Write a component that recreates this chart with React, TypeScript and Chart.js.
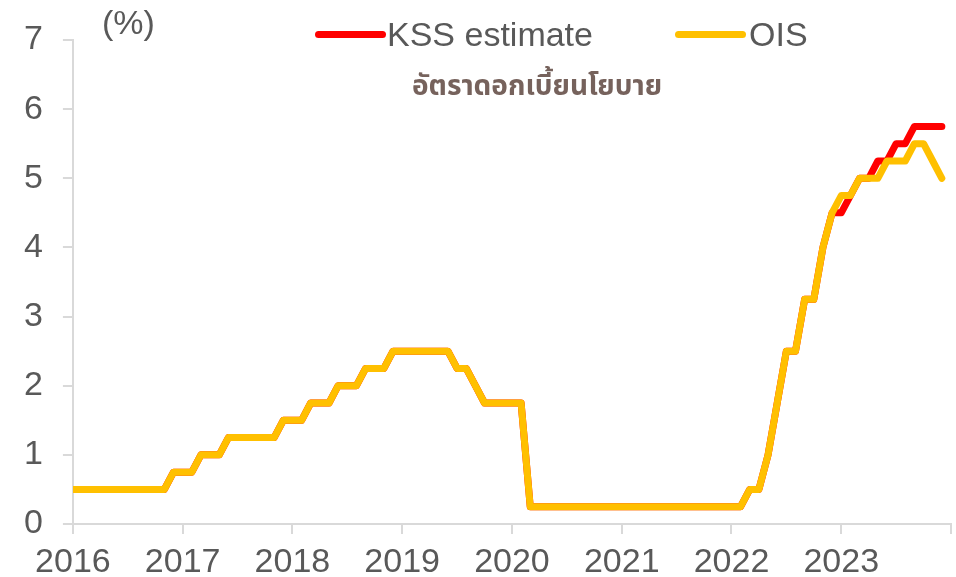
import React, { useEffect, useRef } from "react";
import { Chart, registerables } from "chart.js";

Chart.register(...registerables);

// Monthly observations, Jan 2016 .. Dec 2023 (policy rate, %)
const yearLabels = ["2016", "2017", "2018", "2019", "2020", "2021", "2022", "2023"];

const ois2016 = [0.5, 0.5, 0.5, 0.5, 0.5, 0.5, 0.5, 0.5, 0.5, 0.5, 0.5, 0.75];
const ois2017 = [0.75, 0.75, 1, 1, 1, 1.25, 1.25, 1.25, 1.25, 1.25, 1.25, 1.5];
const ois2018 = [1.5, 1.5, 1.75, 1.75, 1.75, 2, 2, 2, 2.25, 2.25, 2.25, 2.5];
const ois2019 = [2.5, 2.5, 2.5, 2.5, 2.5, 2.5, 2.25, 2.25, 2, 1.75, 1.75, 1.75];
const ois2020 = [1.75, 1.75, 0.25, 0.25, 0.25, 0.25, 0.25, 0.25, 0.25, 0.25, 0.25, 0.25];
const ois2021 = [0.25, 0.25, 0.25, 0.25, 0.25, 0.25, 0.25, 0.25, 0.25, 0.25, 0.25, 0.25];
const ois2022 = [0.25, 0.25, 0.5, 0.5, 1, 1.75, 2.5, 2.5, 3.25, 3.25, 4, 4.5];
const ois2023 = [4.75, 4.75, 5, 5, 5, 5.25, 5.25, 5.25, 5.5, 5.5, 5.25, 5];
const kss2023 = [4.5, 4.75, 5, 5, 5.25, 5.25, 5.5, 5.5, 5.75, 5.75, 5.75, 5.75];

const oisSeries = [
  ...ois2016, ...ois2017, ...ois2018, ...ois2019,
  ...ois2020, ...ois2021, ...ois2022, ...ois2023,
];
const kssSeries = [
  ...ois2016, ...ois2017, ...ois2018, ...ois2019,
  ...ois2020, ...ois2021, ...ois2022, ...kss2023,
];

const TEXT = "#595959";
const AXIS = "#D9D9D9";
const FONT = "'Liberation Sans', Arial, sans-serif";
const FS = 34;

export default function App() {
  const canvasRef = useRef<HTMLCanvasElement | null>(null);

  useEffect(() => {
    document.body.style.margin = "0";
    const canvas = canvasRef.current;
    if (!canvas) return;
    Chart.defaults.font.family = FONT;
    const toPts = (arr: number[]) => arr.map((v, i) => ({ x: i, y: v }));
    const chart = new Chart(canvas, {
      type: "line",
      data: {
        datasets: [
          {
            label: "KSS estimate",
            data: toPts(kssSeries),
            borderColor: "#FF0000",
            backgroundColor: "#FF0000",
            borderWidth: 7,
            pointRadius: 0,
            borderCapStyle: "round",
            borderJoinStyle: "round",
            tension: 0,
            order: 1,
          },
          {
            label: "OIS",
            data: toPts(oisSeries),
            borderColor: "#FFC000",
            backgroundColor: "#FFC000",
            borderWidth: 7,
            pointRadius: 0,
            borderCapStyle: "round",
            borderJoinStyle: "round",
            tension: 0,
            order: 0,
          },
        ],
      },
      options: {
        animation: false,
        responsive: true,
        maintainAspectRatio: false,
        layout: { padding: { left: 4, right: 5, top: 40, bottom: -15 } },
        plugins: {
          legend: { display: false },
          tooltip: { enabled: false },
          title: { display: false },
        },
        scales: {
          x: {
            type: "linear",
            min: 0,
            max: 96,
            ticks: {
              stepSize: 12,
              autoSkip: false,
              maxRotation: 0,
              padding: 0,
              color: TEXT,
              font: { size: FS, family: FONT, lineHeight: "58px" },
              callback: (v: any) => {
                const k = Number(v) / 12;
                return yearLabels[k] ?? "";
              },
            },
            grid: {
              drawOnChartArea: false,
              drawTicks: true,
              tickLength: 10,
              color: AXIS,
              lineWidth: 2,
            },
            border: { display: true, color: AXIS, width: 2 },
          },
          y: {
            min: 0,
            max: 7,
            ticks: {
              stepSize: 1,
              padding: 20,
              color: TEXT,
              font: { size: FS, family: FONT, lineHeight: 1 },
            },
            grid: {
              drawOnChartArea: false,
              drawTicks: true,
              tickLength: 10,
              color: AXIS,
              lineWidth: 2,
            },
            border: { display: true, color: AXIS, width: 2 },
          },
        },
      },
    });
    return () => chart.destroy();
  }, []);

  const txt: React.CSSProperties = {
    position: "absolute",
    fontFamily: FONT,
    fontSize: FS,
    lineHeight: `${FS}px`,
    color: TEXT,
    whiteSpace: "nowrap",
  };
  const swatch = (left: number, color: string): React.CSSProperties => ({
    position: "absolute",
    left,
    top: 31,
    width: 71,
    height: 7,
    borderRadius: 4,
    background: color,
  });

  return (
    <div style={{ position: "relative", width: 956, height: 577, background: "#fff", overflow: "hidden" }}>
      <canvas ref={canvasRef} />
      <div style={{ ...txt, left: 102, top: 5 }}>(%)</div>
      <div style={swatch(315, "#FF0000")} />
      <div style={{ ...txt, left: 387, top: 17 }}>KSS estimate</div>
      <div style={swatch(675, "#FFC000")} />
      <div style={{ ...txt, left: 749, top: 17 }}>OIS</div>
      <div
        style={{
          position: "absolute",
          left: 412,
          top: 72,
          fontFamily: "'Leelawadee UI', Tahoma, 'Noto Sans Thai', 'Noto Sans Thai UI', sans-serif",
          fontWeight: 700,
          fontSize: 28,
          lineHeight: "30px",
          color: "#76625C",
          whiteSpace: "nowrap",
        }}
      >
        อัตราดอกเบี้ยนโยบาย
      </div>
    </div>
  );
}
